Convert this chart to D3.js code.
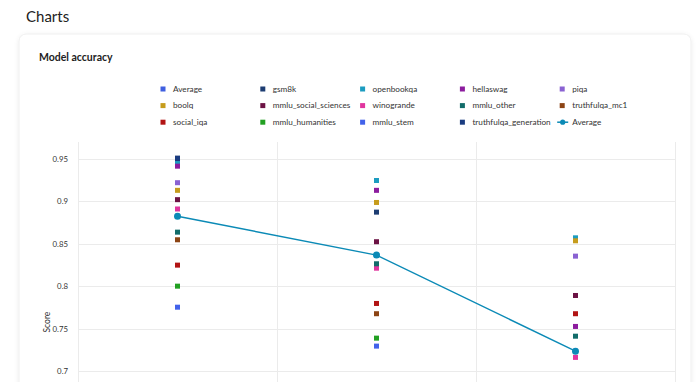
<!DOCTYPE html>
<html>
<head>
<meta charset="utf-8">
<script src="https://cdn.jsdelivr.net/npm/d3@7"></script>
<style>
  body { margin: 0; background: #fff; font-family: Lato, "Noto Sans", sans-serif; }
  svg { display: block; }
</style>
</head>
<body>
<svg id="chart" width="700" height="382"></svg>
<script>
// models on the x axis (their labels sit below the visible area)
const models = ["Model 1", "Model 2", "Model 3"];

// benchmark series, in legend order
const seriesNames = [
    "Average", "gsm8k", "openbookqa", "hellaswag", "piqa",
    "boolq", "mmlu_social_sciences", "winogrande", "mmlu_other", "truthfulqa_mc1",
    "social_iqa", "mmlu_humanities", "mmlu_stem", "truthfulqa_generation"
];
const seriesColors = [
    "#3f5fe0", "#1d3d72", "#1c9cc0", "#8c1c9e", "#8a62d2",
    "#c69c1c", "#6c1244", "#e0359e", "#126c6a", "#8c4414",
    "#b21414", "#22a022", "#4262ea", "#1a3c80"
];
// scores per series, one per model (null = not visible)
const seriesValues = [
    [0.8825, 0.8366, 0.7233],
    [0.951, 0.8873, null],
    [0.947, 0.9246, 0.857],
    [0.9415, 0.913, 0.7525],
    [0.922, null, 0.8354],
    [0.913, 0.8987, 0.8535],
    [0.902, 0.8524, 0.789],
    [0.891, 0.8212, 0.716],
    [0.8637, 0.8264, 0.741],
    [0.8547, 0.7675, null],
    [0.8248, 0.7796, 0.7675],
    [0.80, 0.7387, null],
    [0.7752, 0.7293, null],
    [0.9505, null, null]
];
// the line series
const averageLine = [0.8825, 0.8366, 0.7233];
const lineColor = "#0b8ab6";
const yTicks = [0.7, 0.75, 0.8, 0.85, 0.9, 0.95];

const svg = d3.select("#chart");

// page title
svg.append("text")
    .attr("x", 26).attr("y", 22)
    .attr("font-size", 15)
    .attr("fill", "#222")
    .text("Charts");

// card
const defs = svg.append("defs");
const f = defs.append("filter").attr("id", "shadow")
    .attr("x", "-5%").attr("y", "-5%").attr("width", "110%").attr("height", "110%");
f.append("feDropShadow").attr("dx", 0).attr("dy", 1).attr("stdDeviation", 2)
    .attr("flood-color", "#000").attr("flood-opacity", 0.08);

svg.append("rect")
    .attr("x", 19).attr("y", 34)
    .attr("width", 672).attr("height", 400)
    .attr("rx", 7)
    .attr("fill", "#fff")
    .attr("stroke", "#efefef")
    .attr("filter", "url(#shadow)");

svg.append("text")
    .attr("x", 39).attr("y", 61)
    .attr("font-size", 10.5)
    .attr("font-weight", 700)
    .attr("fill", "#222")
    .text("Model accuracy");

// legend
const legendItems = seriesNames.map((n, i) => ({ name: n, color: seriesColors[i], line: false }))
    .concat([{ name: "Average", color: lineColor, line: true }]);

const legend = svg.append("g").attr("class", "legend");
const li = legend.selectAll("g")
    .data(legendItems)
    .enter().append("g")
    .attr("transform", (d, i) => `translate(${163 + (i % 5) * 99.8},${89 + Math.floor(i / 5) * 16.6})`);

li.filter(d => !d.line).append("rect")
    .attr("x", -2.5).attr("y", -2.5)
    .attr("width", 5).attr("height", 5)
    .attr("fill", d => d.color);

li.filter(d => d.line).append("line")
    .attr("x1", -5).attr("x2", 6).attr("y1", 0).attr("y2", 0)
    .attr("stroke", d => d.color).attr("stroke-width", 1.5);
li.filter(d => d.line).append("circle")
    .attr("cx", 0.5).attr("r", 2.6).attr("fill", d => d.color);

li.append("text")
    .attr("x", 10)
    .attr("dy", "0.35em")
    .attr("font-size", 8.2)
    .attr("fill", "#333")
    .text(d => d.name);

// plot area
const plotLeft = 78, plotRight = 675, plotTop = 142;
const y = d3.scaleLinear().domain([0.55, 0.97]).range([142 + 0.42 * 848, plotTop]);
const x = d3.scaleBand().domain(models).range([plotLeft, plotRight]);
const xc = m => x(m) + x.bandwidth() / 2;
const plotBottom = y(0.55);

const grid = svg.append("g");
grid.selectAll("line.h")
    .data(yTicks)
    .enter().append("line")
    .attr("class", "h")
    .attr("x1", plotLeft).attr("x2", plotRight)
    .attr("y1", d => Math.round(y(d)) + 0.5).attr("y2", d => Math.round(y(d)) + 0.5)
    .attr("stroke", "#ebebeb");

const vLines = [plotLeft].concat(models.map(m => x(m) + x.bandwidth()));
grid.selectAll("line.v")
    .data(vLines)
    .enter().append("line")
    .attr("class", "v")
    .attr("x1", d => Math.round(d) + 0.5).attr("x2", d => Math.round(d) + 0.5)
    .attr("y1", plotTop).attr("y2", plotBottom)
    .attr("stroke", "#ebebeb");

// y axis labels
const yAxis = svg.append("g")
    .attr("transform", `translate(${plotLeft - 7},0)`)
    .call(d3.axisLeft(y).tickValues(yTicks).tickSize(0).tickFormat(d3.format("")));
yAxis.select(".domain").remove();
yAxis.selectAll("text")
    .attr("font-family", "Lato, sans-serif")
    .attr("font-size", 7.8)
    .attr("fill", "#333");

svg.append("text")
    .attr("transform", `translate(49.5,${(plotTop + plotBottom) / 2 + 2}) rotate(-90)`)
    .attr("text-anchor", "middle")
    .attr("font-size", 8.5)
    .attr("fill", "#333")
    .text("Score");

// scatter squares
const points = [];
seriesValues.forEach((vals, si) => {
    vals.forEach((v, mi) => {
        if (v !== null) points.push({ s: si, m: models[mi], v: v });
    });
});
svg.append("g").selectAll("rect")
    .data(points)
    .enter().append("rect")
    .attr("x", d => xc(d.m) - 2.5)
    .attr("y", d => y(d.v) - 2.5)
    .attr("width", 5).attr("height", 5)
    .attr("fill", d => seriesColors[d.s]);

// average line
const line = d3.line()
    .x((d, i) => xc(models[i]))
    .y(d => y(d));
svg.append("path")
    .datum(averageLine)
    .attr("d", line)
    .attr("fill", "none")
    .attr("stroke", lineColor)
    .attr("stroke-width", 1.4);
svg.append("g").selectAll("circle")
    .data(averageLine)
    .enter().append("circle")
    .attr("cx", (d, i) => xc(models[i]))
    .attr("cy", d => y(d))
    .attr("r", 3.5)
    .attr("fill", lineColor);
</script>
</body>
</html>
